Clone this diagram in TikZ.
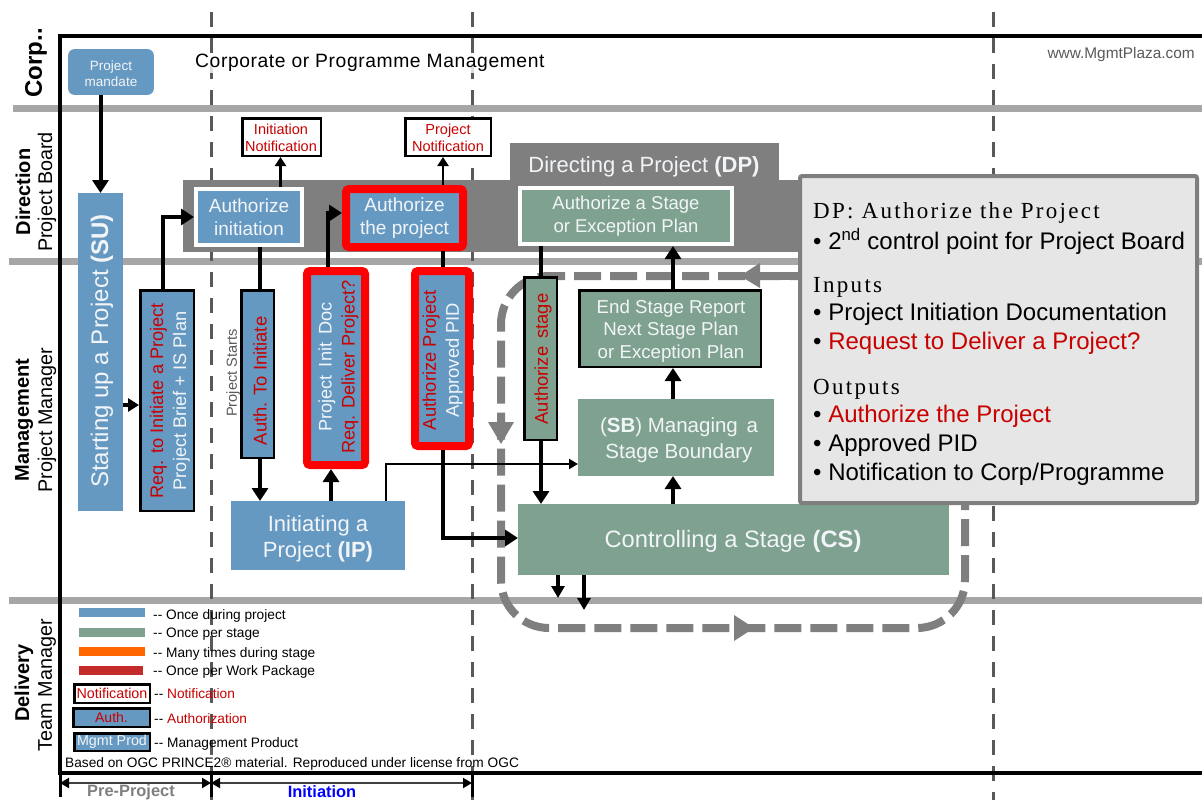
\documentclass[tikz,border=0pt]{standalone}
\usepackage{fontspec}
\setmainfont{Liberation Sans}
\newfontfamily\spaced[LetterSpace=10]{Liberation Serif}
\newfontfamily\corpf[LetterSpace=3]{Liberation Sans}
\usetikzlibrary{arrows.meta}
\definecolor{pblue}{HTML}{6699C2}
\definecolor{pgreen}{HTML}{7EA28F}
\definecolor{porange}{HTML}{FF6600}
\definecolor{pbar}{HTML}{C42B2B}
\definecolor{tred}{HTML}{C80000}
\definecolor{tlight}{HTML}{F2F5F8}
\definecolor{band}{HTML}{A6A6A6}
\definecolor{dgrey}{HTML}{7F7F7F}
\definecolor{vdash}{HTML}{595959}
\definecolor{panelbg}{HTML}{E6E6E6}
\newcommand{\fs}[2]{\fontsize{#1}{#2}\selectfont}
\newcommand{\bx}[7][]{\node[#2,#1,minimum width={#5-#3-\pgflinewidth},minimum height={#6-#4-\pgflinewidth}] (#7) at ({(#3+#5)/2},{(#4+#6)/2})}
\tikzset{
  basebox/.style={inner sep=0pt,align=center,text=tlight},
  subox/.style={basebox,fill=pblue},
  grbox/.style={basebox,fill=pgreen},
  ringw/.style={draw=white,line width=4pt},
  ringk/.style={draw=black,line width=2.5pt},
  ringr/.style={draw=red,line width=8pt,rounded corners=3pt},
  notebox/.style={basebox,fill=white,draw=black,line width=2.5pt,text=tred,font=\fs{14.5}{17}},
  rottext/.style={rotate=90,inner sep=0pt,align=center,text=tlight},
  boxtext/.style={inner sep=0pt,align=center,text=tlight},
  bigarrow/.style={line width=4pt,-{Triangle[width=16pt,length=13pt]}},
  midarrow/.style={line width=2.5pt,-{Triangle[width=11pt,length=9pt]}},
  plainline/.style={line width=4pt},
  legtext/.style={anchor=west,inner sep=0pt,font=\fs{13.7}{16}},
  pltext/.style={anchor=west,inner sep=0pt,font=\fs{24}{28}},
  phtext/.style={anchor=west,inner sep=0pt,font=\fs{23}{26}\spaced},
  swimtext/.style={rotate=90,inner sep=0pt},
  bandline/.style={band,line width=7pt},
  laneline/.style={vdash,line width=3pt,dash pattern=on 15pt off 11pt},
  loopline/.style={dgrey,line width=8pt},
  spanline/.style={line width=2pt,draw=black!75,{Triangle[width=10pt,length=9pt,black]}-{Triangle[width=10pt,length=9pt,black]}},
  tickline/.style={black,line width=3pt}
}
\begin{document}
\begin{tikzpicture}[x=1pt,y=-1pt]
\useasboundingbox (0,0) rectangle (1202,800);
% bands
\draw[bandline] (13,108) -- (1202,108);
\draw[bandline] (9,261) -- (1202,261);
\draw[bandline] (9,600) -- (1202,600);
% lanes
\coordinate (la) at (211,12); \coordinate (lb) at (472,12); \coordinate (lc) at (993,12);
\draw[laneline] (la) -- (211,800);
\draw[laneline] (lb) -- (472,800);
\draw[laneline] (lc) -- (993,800);
% frame
\draw[black,line width=4pt] (1202,36) -- (60,36) -- (60,773) -- (1202,773);
% swimlane labels
\node[swimtext,font=\fs{24}{28}\bfseries] (lcorp) at (36,63) {Corp..};
\node[swimtext,font=\fs{20}{24}\bfseries] (ldir) at (23,192) {Direction};
\node[swimtext,font=\fs{19.8}{24}] (lpb) at (47,192) {Project Board};
\node[swimtext,font=\fs{20}{24}\bfseries] (lman) at (24,420) {Management};
\node[swimtext,font=\fs{19.8}{24}] (lpm) at (47,420) {Project Manager};
\node[swimtext,font=\fs{20}{24}\bfseries] (ldel) at (24,683) {Delivery};
\node[swimtext,font=\fs{19.8}{24}] (ltm) at (47,685) {Team Manager};
\node[anchor=west,inner sep=1pt,fill=white,fill opacity=.8,text opacity=1,font=\fs{19.3}{22}\corpf] (corpt) at (194,63) {Corporate or Programme Management};
\node[anchor=east,inner sep=0pt,text=vdash,font=\fs{15.4}{18}] (www) at (1195,55) {www.MgmtPlaza.com};
% DP background
\fill[dgrey] (510,143) rectangle (779,182);
\fill[dgrey] (183,180) rectangle (800,252);
\node[boxtext,font=\fs{22}{26}] (dpt) at (644,167) {Directing a Project \textbf{(DP)}};
% dashed loop
\coordinate (loopa) at (501,276);
\coordinate (loopb) at (501,628);
\coordinate (loopc) at (965,628);
\coordinate (loopd) at (965,500);
\coordinate (loope) at (798,276);
\draw[loopline,rounded corners=48pt,dash pattern=on 27pt off 9pt,dash phase=19pt] (loope) -- (loopa) -- (loopb) -- (loopc) -- (loopd);
\draw[loopline] (loope) -- (750,276);
\fill[dgrey] (740,276) -- (760,263) -- (760,288) -- cycle;
\fill[dgrey] (501,444) -- (488,422) -- (514,422) -- cycle;
\fill[dgrey] (754,628) -- (734,615) -- (734,641) -- cycle;
% boxes
\bx[rounded corners=6pt]{subox}{68}{49}{154}{95}{mandate} {};
\node[boxtext,font=\fs{13.5}{16}] (mandatet) at (111,74) {Project\\mandate};
\bx{subox}{78}{193}{123}{511}{sup} {};
\node[rottext,font=\fs{24}{28}] (supt) at (102,351) {Starting up a Project \textbf{(SU)}};
\bx[ringk]{subox}{139}{289}{195}{512}{req} {};
\node[rottext,font=\fs{18.2}{23}] (reqt) at (170,401) {\textcolor{tred}{Req. to Initiate a Project}\\Project Brief + IS Plan};
\bx[ringw]{subox}{194}{187}{304}{247}{ai} [font=\fs{19}{23}] {Authorize\\initiation};
\bx[ringr]{subox}{342}{185}{467}{251}{ap} [font=\fs{19}{23}] {Authorize\\the project};
\bx{notebox}{241}{117}{322}{157}{inn} {};
\node[boxtext,text=tred,font=\fs{14.5}{17}] (innt) at (281,138) {Initiation\\Notification};
\bx{notebox}{404}{117}{492}{157}{pn} {};
\node[boxtext,text=tred,font=\fs{14.5}{17}] (pnt) at (448,138) {Project\\Notification};
\bx[ringw]{grbox}{518}{186}{734}{246}{as} [font=\fs{18.5}{22.5}] {Authorize a Stage\\or Exception Plan};
\bx[ringk]{subox}{240}{289}{275}{459}{ati} {};
\node[rottext,text=tred,font=\fs{18.4}{23}] (atit) at (260,381) {Auth. To Initiate};
\bx[ringr]{subox}{303}{267}{369}{469}{pid} {};
\node[rottext,font=\fs{18.2}{23}] (pidt) at (338.5,367) {Project\hspace{3pt} Init\hspace{3pt} Doc\\\textcolor{tred}{Req. Deliver Project?}};
\bx[ringr]{subox}{411}{267}{473}{450}{apb} {};
\node[rottext,font=\fs{18.4}{23}] (apbt) at (442.5,360) {\textcolor{tred}{Authorize Project}\\Approved PID};
\bx{subox}{231}{501}{405}{570}{ip} {};
\node[boxtext,font=\fs{22}{26}] (ipt) at (318,539) {Initiating a\\Project \textbf{(IP)}};
\node[inner sep=0pt,rotate=90,text=vdash,font=\fs{14.6}{17}] (pst) at (233,373) {Project Starts};
\bx{grbox}{518}{504}{949}{575}{cs} {};
\node[boxtext,font=\fs{23.7}{27}] (cst) at (733,541) {Controlling a Stage \textbf{(CS)}};
\bx[ringk]{grbox}{578}{289}{762}{368}{esr} {};
\node[boxtext,font=\fs{18.7}{22.5}] (esrt) at (671,331) {End Stage Report\\Next Stage Plan\\or Exception Plan};
\bx{grbox}{578}{399}{774}{476}{sb} {};
\node[boxtext,font=\fs{20.5}{26}] (sbt) at (679,440) {(\textbf{SB}) Managing\hspace{3pt} a\\Stage Boundary};
\bx[ringk]{grbox}{523}{276}{558}{441}{ast} {};
\node[rottext,text=tred,font=\fs{18.4}{23}] (astt) at (543,359) {Authorize\hspace{3pt} stage};
% connector columns
\coordinate (x163) at (163,0);
\coordinate (x260) at (260,0);
\coordinate (x280) at (280.5,0);
\coordinate (x328) at (328,0);
\coordinate (x331) at (331,0);
\coordinate (x386) at (386,0);
\coordinate (x443) at (443,0);
\coordinate (x541) at (541,0);
\coordinate (x558) at (558,0);
\coordinate (x584) at (584,0);
\coordinate (x673) at (673,0);
\coordinate (y213) at (0,213);
\coordinate (y405) at (0,405);
\coordinate (y464) at (0,464);
\coordinate (y538) at (0,538);
\coordinate (e1) at (558,598);
\coordinate (e2) at (584,610);
% connectors
\draw[bigarrow] (sup.north |- mandate.south) -- (sup.north);
\draw[line width=4pt,-{Triangle[width=13pt,length=11pt]}] (sup.east |- y405) -- (req.west |- y405);
\draw[bigarrow] (x163 |- req.north) -- (x163 |- ai.west) -- (ai.west);
\draw[plainline] (x260 |- ai.south) -- (x260 |- ati.north);
\draw[bigarrow] (x260 |- ati.south) -- (x260 |- ip.north);
\draw[midarrow] (x280 |- ai.north) -- (x280 |- inn.south);
\draw[midarrow] (x443 |- ap.north) -- (x443 |- pn.south);
\draw[bigarrow] (x328 |- pid.north) -- (x328 |- y213) -- (ap.west |- y213);
\draw[bigarrow] (x331 |- ip.north) -- (x331 |- pid.south);
\draw[plainline] (x443 |- ap.south) -- (x443 |- apb.north);
\draw[bigarrow] (x443 |- apb.south) -- (x443 |- y538) -- (cs.west |- y538);
\draw[line width=2pt,-{Triangle[width=10pt,length=9pt]}] (x386 |- ip.north) -- (x386 |- y464) -- (sb.west |- y464);
\draw[plainline] (x541 |- as.south) -- (x541 |- ast.north);
\draw[bigarrow] (x541 |- ast.south) -- (x541 |- cs.north);
\draw[bigarrow] (x673 |- esr.north) -- (x673 |- as.south);
\draw[bigarrow] (x673 |- sb.north) -- (x673 |- esr.south);
\draw[bigarrow] (x673 |- cs.north) -- (x673 |- sb.south);
\draw[line width=3.5pt,-{Triangle[width=13pt,length=12pt]}] (x558 |- cs.south) -- (e1);
\draw[line width=3.5pt,-{Triangle[width=13pt,length=12pt]}] (x584 |- cs.south) -- (e2);
% legend
\fill[pblue] (79,608) rectangle (145,617);
\fill[pgreen] (79,628) rectangle (145,637);
\fill[porange] (79,647) rectangle (145,656);
\fill[pbar] (79,666) rectangle (143,675);
\node[legtext] (l1) at (153,615.5) {-{}- Once during project};
\node[legtext] (l2) at (153,634.5) {-{}- Once per stage};
\node[legtext] (l3) at (153,653.5) {-{}- Many times during stage};
\node[legtext] (l4) at (153,671.5) {-{}- Once per Work Package};
\bx{notebox}{73}{683}{151}{704}{lgn} [font=\fs{14.3}{16}] {Notification};
\bx[ringk]{subox}{72}{707}{151}{728}{lga} [text=tred,font=\fs{14}{16}] {Auth.};
\bx[ringk]{subox}{73}{732}{151}{752}{lgm} [font=\fs{14.3}{16}] {Mgmt Prod};
\node[legtext] (l5) at (154,693.5) {-{}- \textcolor{tred}{Notification}};
\node[legtext] (l6) at (154,718.5) {-{}- \textcolor{tred}{Authorization}};
\node[legtext] (l7) at (154,743.5) {-{}- Management Product};
\node[legtext] (based) at (65,763.5) {Based on OGC PRINCE2® material. Reproduced under license from OGC};
% range bar
\coordinate (r0) at (60,773); \coordinate (r1) at (211,773); \coordinate (r2) at (472,773);
\coordinate (y783) at (0,783);
\coordinate (y797) at (0,797);
\draw[tickline] (r0) -- (r0 |- y797);
\draw[tickline] (r1) -- (r1 |- y797);
\draw[tickline] (r2) -- (r2 |- y797);
\draw[spanline] (r0 |- y783) -- (r1 |- y783);
\draw[spanline] (r1 |- y783) -- (r2 |- y783);
\node[inner sep=0pt,text=dgrey,font=\fs{16.4}{18}\bfseries] (pre) at (131,792) {Pre-Project};
\node[inner sep=0pt,text=blue,font=\fs{16.4}{18}\bfseries] (ini) at (322,792) {Initiation};
% panel
\node[fill=panelbg,draw=dgrey,line width=4pt,rounded corners=2pt,minimum width=397pt,minimum height=327pt,inner sep=0pt] (panel) at (998.5,339.5) {};
\node[phtext] (p1) at (813,213) {DP: Authorize the Project};
\node[pltext] (p2) at (813,241) {• 2\textsuperscript{nd} control point for Project Board};
\node[phtext] (p3) at (813,287) {Inputs};
\node[pltext] (p4) at (813,314) {• Project Initiation Documentation};
\node[pltext] (p5) at (813,343) {• \textcolor{tred}{Request to Deliver a Project?}};
\node[phtext] (p6) at (813,389) {Outputs};
\node[pltext] (p7) at (813,416) {• \textcolor{tred}{Authorize the Project}};
\node[pltext] (p8) at (813,445) {• Approved PID};
\node[pltext] (p9) at (813,474) {• Notification to Corp/Programme};
\end{tikzpicture}
\end{document}
